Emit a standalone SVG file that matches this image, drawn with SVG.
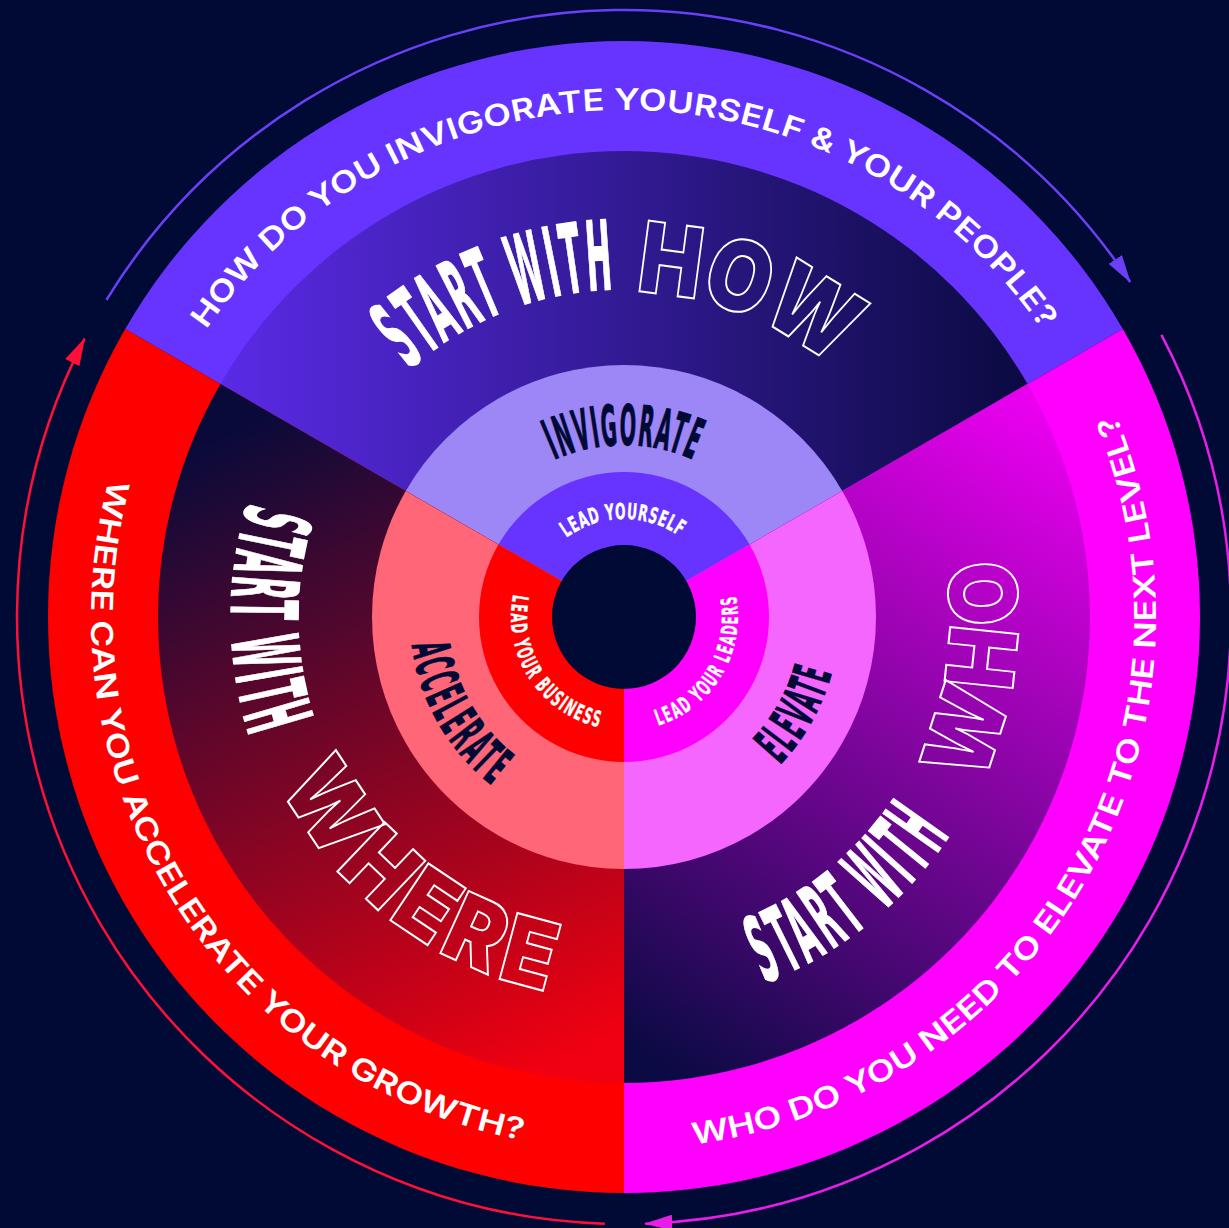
<svg xmlns="http://www.w3.org/2000/svg" width="1229" height="1228" viewBox="0 0 1229 1228">
  <defs>
    <style>
      .ring{font-family:Inter,"Open Sans","Liberation Sans",sans-serif;font-weight:600;font-size:30px;fill:#fff}
      .head{font-family:"Liberation Sans Narrow","DejaVu Sans Condensed",Inter,"Liberation Sans",sans-serif;font-weight:700;font-size:96px;letter-spacing:6px;fill:#fff;stroke:#fff;stroke-width:1.5;stroke-linejoin:miter}
      .head.in{font-size:92px;letter-spacing:14px}
      .hollow{font-family:Inter,Roboto,"Liberation Sans",sans-serif;font-weight:900;font-size:98px;fill:none;stroke:#fff;stroke-width:2;stroke-linejoin:miter}
      .hollow.in{font-size:94px;letter-spacing:8px}
      .stage{font-family:"Liberation Sans Narrow","DejaVu Sans Condensed",Inter,"Liberation Sans",sans-serif;font-weight:700;font-size:56px;letter-spacing:3px;fill:#000a35;stroke:#000a35;stroke-width:1}
      .stage.in{font-size:52px;letter-spacing:8px}
      .lead{font-family:"Liberation Sans Narrow","DejaVu Sans Condensed",Inter,"Liberation Sans",sans-serif;font-weight:700;font-size:22px;letter-spacing:1px;fill:#fff;stroke:#fff;stroke-width:0.4}
      .lead.in{letter-spacing:3px}
      .arc{fill:none;stroke-width:2.5}
    </style>

    <!-- sector fills -->
    <linearGradient id="gHow" gradientUnits="userSpaceOnUse" x1="220" y1="0" x2="1030" y2="0">
      <stop offset="0" stop-color="#5a2ae6"/>
      <stop offset="1" stop-color="#0a0a40"/>
    </linearGradient>
    <linearGradient id="gWhere" gradientUnits="userSpaceOnUse" x1="260" y1="420" x2="560" y2="1060">
      <stop offset="0" stop-color="#0a0a3a"/>
      <stop offset="1" stop-color="#f00010"/>
    </linearGradient>
    <linearGradient id="gWho" gradientUnits="userSpaceOnUse" x1="1060" y1="430" x2="660" y2="1060">
      <stop offset="0" stop-color="#e800ee"/>
      <stop offset="1" stop-color="#0c0a45"/>
    </linearGradient>

    <!-- arrowheads -->
    <marker id="mHow" viewBox="0 0 28 16" refX="27" refY="8" markerWidth="28" markerHeight="16" markerUnits="userSpaceOnUse" orient="auto">
      <path d="M0,0 L28,8 L0,16 z" fill="#6a3ff5"/>
    </marker>
    <marker id="mWhere" viewBox="0 0 28 16" refX="27" refY="8" markerWidth="28" markerHeight="16" markerUnits="userSpaceOnUse" orient="auto">
      <path d="M0,0 L28,8 L0,16 z" fill="#ff1038"/>
    </marker>
    <marker id="mWho" viewBox="0 0 28 16" refX="27" refY="8" markerWidth="28" markerHeight="16" markerUnits="userSpaceOnUse" orient="auto">
      <path d="M0,0 L28,8 L0,16 z" fill="#e81ee8"/>
    </marker>

    <!-- text baselines (centre 624,617) -->
    <path id="tpHowQ" d="M206.17,329.83 A507,507 0 0 1 1041.83,329.83"/>
    <path id="tpWhereQ" d="M109.16,479.05 A533,533 0 0 0 522.30,1140.21"/>
    <path id="tpWhoQ" d="M693.44,1144.45 A532,532 0 0 0 1115.50,413.41"/>
    <path id="tpHowA" d="M408.81,369.46 A328,328 0 0 1 615.41,289.11"/>
    <path id="tpHowB" d="M635.34,292.20 A325,325 0 0 1 832.91,368.04"/>
    <path id="tpWhereA" d="M248.17,502.10 A393,393 0 0 0 251.31,741.70"/>
    <path id="tpWhereB" d="M280.66,784.46 A382,382 0 0 0 554.39,992.60"/>
    <path id="tpWhoA" d="M764.48,982.96 A392,392 0 0 0 952.76,830.50"/>
    <path id="tpWhoB" d="M981.09,783.51 A394,394 0 0 0 1012.60,551.97"/>
    <path id="tpInv" d="M554.04,459.87 A172,172 0 0 1 693.96,459.87"/>
    <path id="tpAcc" d="M411.83,644.93 A214,214 0 0 0 495.21,787.91"/>
    <path id="tpEle" d="M779.95,764.99 A215,215 0 0 0 832.61,669.01"/>
    <path id="tpSelf" d="M566.40,537.72 A98,98 0 0 1 680.21,536.72"/>
    <path id="tpBiz" d="M513.27,594.47 A113,113 0 0 0 600.51,727.53"/>
    <path id="tpLeaders" d="M658.28,725.72 A114,114 0 0 0 735.71,594.27"/>
  </defs>

  <rect width="1229" height="1228" fill="#000a35"/>

  <!-- top sector: HOW -->
  <g id="sector-how">
    <path d="M624,617 L125.17,329 A576,576 0 0 1 1122.83,329 Z" fill="#6633ff"/>
    <path d="M624,617 L220.43,384 A466,466 0 0 1 1027.57,384 Z" fill="url(#gHow)"/>
    <path d="M624,617 L405.76,491 A252,252 0 0 1 842.24,491 Z" fill="#9d86f6"/>
    <path d="M624,617 L498.43,544.5 A145,145 0 0 1 749.57,544.5 Z" fill="#6633ff"/>
    <text class="ring"><textPath href="#tpHowQ" textLength="982" lengthAdjust="spacingAndGlyphs">HOW DO YOU INVIGORATE YOURSELF &amp; YOUR PEOPLE?</textPath></text>
    <text class="head"><textPath href="#tpHowA" textLength="226" lengthAdjust="spacingAndGlyphs">START WITH</textPath></text>
    <text class="hollow"><textPath href="#tpHowB" textLength="215" lengthAdjust="spacingAndGlyphs">HOW</textPath></text>
    <text class="stage"><textPath href="#tpInv" textLength="144" lengthAdjust="spacingAndGlyphs">INVIGORATE</textPath></text>
    <text class="lead"><textPath href="#tpSelf" textLength="121" lengthAdjust="spacingAndGlyphs">LEAD YOURSELF</textPath></text>
  </g>

  <!-- right sector: WHO -->
  <g id="sector-who">
    <path d="M624,617 L1122.83,329 A576,576 0 0 1 624,1193 Z" fill="#ff00ff"/>
    <path d="M624,617 L1027.57,384 A466,466 0 0 1 624,1083 Z" fill="url(#gWho)"/>
    <path d="M624,617 L842.24,491 A252,252 0 0 1 624,869 Z" fill="#f566ff"/>
    <path d="M624,617 L749.57,544.5 A145,145 0 0 1 624,762 Z" fill="#ff00ff"/>
    <text class="ring"><textPath href="#tpWhoQ" textLength="974" lengthAdjust="spacingAndGlyphs">WHO DO YOU NEED TO ELEVATE TO THE NEXT LEVEL?</textPath></text>
    <text class="head in"><textPath href="#tpWhoA" textLength="246" lengthAdjust="spacingAndGlyphs">START WITH</textPath></text>
    <text class="hollow in"><textPath href="#tpWhoB" textLength="237" lengthAdjust="spacingAndGlyphs">WHO</textPath></text>
    <text class="stage in"><textPath href="#tpEle" textLength="110" lengthAdjust="spacingAndGlyphs">ELEVATE</textPath></text>
    <text class="lead in"><textPath href="#tpLeaders" textLength="167" lengthAdjust="spacingAndGlyphs">LEAD YOUR LEADERS</textPath></text>
  </g>

  <!-- left sector: WHERE -->
  <g id="sector-where">
    <path d="M624,617 L624,1193 A576,576 0 0 1 125.17,329 Z" fill="#ff0000"/>
    <path d="M624,617 L624,1083 A466,466 0 0 1 220.43,384 Z" fill="url(#gWhere)"/>
    <path d="M624,617 L624,869 A252,252 0 0 1 405.76,491 Z" fill="#ff6678"/>
    <path d="M624,617 L624,762 A145,145 0 0 1 498.43,544.5 Z" fill="#ff0000"/>
    <text class="ring"><textPath href="#tpWhereQ" textLength="874" lengthAdjust="spacingAndGlyphs">WHERE CAN YOU ACCELERATE YOUR GROWTH?</textPath></text>
    <text class="head in"><textPath href="#tpWhereA" textLength="243" lengthAdjust="spacingAndGlyphs">START WITH</textPath></text>
    <text class="hollow in"><textPath href="#tpWhereB" textLength="356" lengthAdjust="spacingAndGlyphs">WHERE</textPath></text>
    <text class="stage in"><textPath href="#tpAcc" textLength="169" lengthAdjust="spacingAndGlyphs">ACCELERATE</textPath></text>
    <text class="lead in"><textPath href="#tpBiz" textLength="176" lengthAdjust="spacingAndGlyphs">LEAD YOUR BUSINESS</textPath></text>
  </g>

  <!-- hub -->
  <g id="hub">
    <circle cx="624" cy="617" r="72" fill="#000a35"/>
  </g>

  <!-- cycle arrows -->
  <g id="connectors">
    <path class="arc" d="M106.45,299.84 A607,607 0 0 1 1130.17,281.97" stroke="#6a3ff5" marker-end="url(#mHow)"/>
    <path class="arc" d="M1161.43,334.84 A607,607 0 0 1 645.18,1223.63" stroke="#e81ee8" marker-end="url(#mWho)"/>
    <path class="arc" d="M604.93,1223.70 A607,607 0 0 1 84.61,338.60" stroke="#ff1038" marker-end="url(#mWhere)"/>
  </g>
</svg>
